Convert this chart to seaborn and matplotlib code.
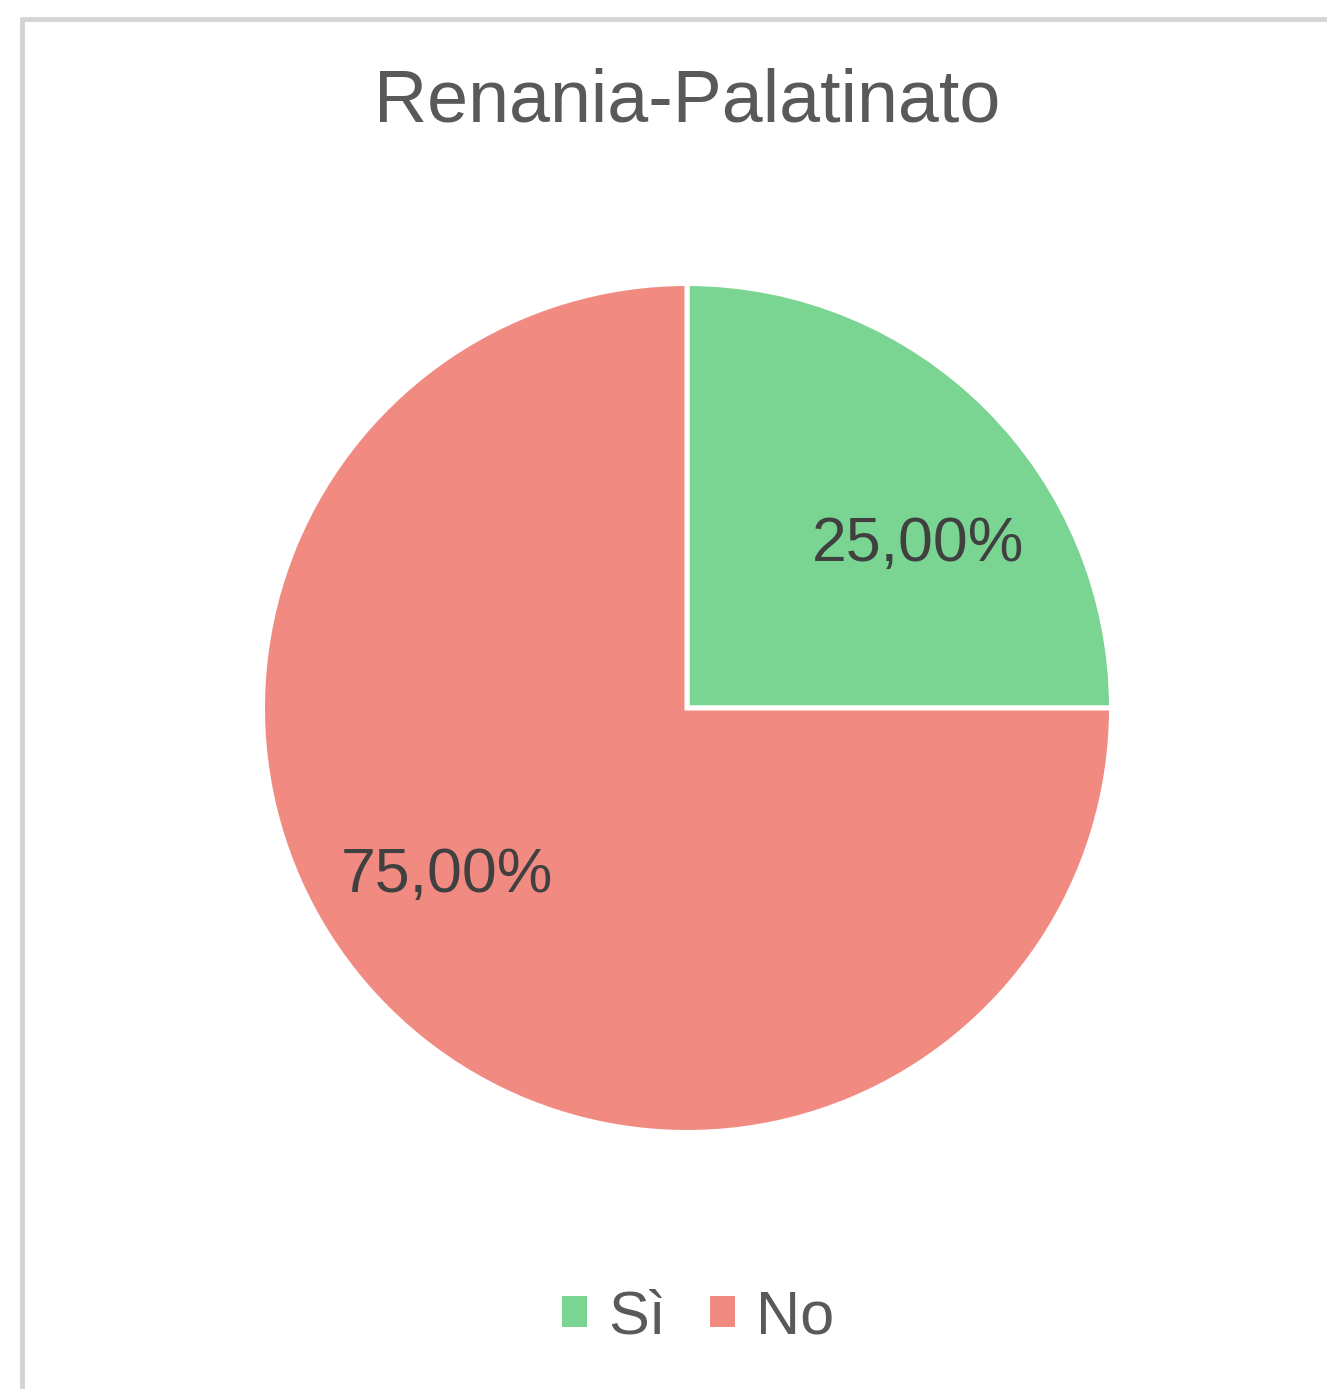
import matplotlib
matplotlib.use("Agg")
import matplotlib.pyplot as plt
from matplotlib.patches import Patch
from matplotlib.lines import Line2D
import seaborn as sns

sns.set_theme(style="white")
plt.rcParams['font.family'] = ['Liberation Sans', 'DejaVu Sans']

title = "Renania-Palatinato"
categories = ["Sì", "No"]
values = [25.0, 75.0]
colors = ["#7BD592", "#F18B82"]
label_pos = [(0.545, 0.385), (-0.565, -0.395)]

W, H = 1327, 1389
fig = plt.figure(figsize=(W / 100, H / 100), dpi=100)
fig.patch.set_facecolor("white")

# frame of the chart area
fig.add_artist(Line2D([22 / W, 22 / W], [0, 1 - 19 / H], transform=fig.transFigure,
                      color="#d4d4d4", lw=3.5))
fig.add_artist(Line2D([22 / W, 1], [1 - 19 / H, 1 - 19 / H], transform=fig.transFigure,
                      color="#d4d4d4", lw=3.5))

cx, cy, r = 687, 708, 424.5
ax = fig.add_axes([(cx - r) / W, (H - cy - r) / H, 2 * r / W, 2 * r / H])
wedges, texts, autotexts = ax.pie(
    values, colors=colors, startangle=90, counterclock=False,
    autopct=lambda p: f"{p:.2f}%".replace(".", ","),
    wedgeprops=dict(edgecolor="white", linewidth=3.6),
    textprops=dict(fontsize=45, color="#404040"),
)
for t, (x, y) in zip(autotexts, label_pos):
    t.set_position((x, y))
ax.set_xlim(-1, 1)
ax.set_ylim(-1, 1)
ax.set_aspect("equal")
ax.axis("off")

fig.text(cx / W, 1 - 102 / H, title, ha="center", va="center",
         fontsize=53, color="#595959")

handles = [Patch(facecolor=c, edgecolor="none") for c in colors]
fig.legend(handles, categories, loc="center", bbox_to_anchor=(698 / W, 1 - 1318 / H),
           ncol=2, frameon=False, fontsize=44, labelcolor="#595959",
           handlelength=0.41, handleheight=0.41, handletextpad=0.34,
           columnspacing=0.72, borderpad=0)

fig.savefig("out.png", dpi=100, facecolor="white")
